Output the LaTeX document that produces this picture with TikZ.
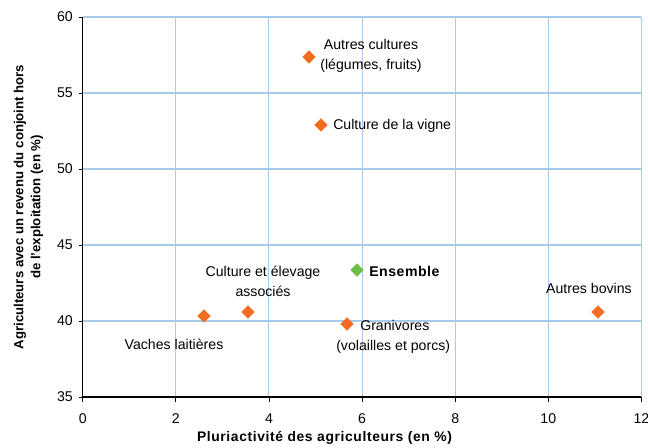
\documentclass[tikz,border=0pt]{standalone}
\usepackage{fontspec}
\setmainfont{Liberation Sans}
\newfontfamily\spaced[LetterSpace=4.5]{Liberation Sans}
\newfontfamily\spacedb[LetterSpace=3.5]{Liberation Sans}
\usetikzlibrary{shapes.geometric}
\definecolor{gridblue}{HTML}{A9CBEB}
\definecolor{mkorange}{HTML}{F26D21}
\definecolor{mkgreen}{HTML}{6DBE45}
\begin{document}
\begin{tikzpicture}[x=0.75pt,y=-0.75pt,
  lbl/.style={font=\fontsize{10.6}{15}\selectfont, inner sep=0pt, align=center},
  ttl/.style={inner sep=0pt, align=center},
  mk/.style={diamond, fill=mkorange, minimum size=10pt, inner sep=0pt},
  mkg/.style={diamond, fill=mkgreen, minimum size=10pt, inner sep=0pt},
  gridl/.style={draw=gridblue, line width=0.8pt}]
\useasboundingbox (0,0) rectangle (648,448);
% map: x px = 82.7 + 46.56*X ; y px = 17 + 15.2*(60-Y)
% grid
\foreach \i in {1,...,6} {\draw[gridl] ({82.7+93.12*\i},17) -- ({82.7+93.12*\i},397);}
\foreach \j in {1,...,4} {\draw[gridl] (82.7,{17+76*\j}) -- (641.4,{17+76*\j});}
\draw[gridl] (82.7,17) -- (641.4,17);
% axes
\draw[black, line width=0.9pt] (82.7,17) -- (82.7,397) -- (641.4,397);
\foreach \j/\v in {0/60,1/55,2/50,3/45,4/40,5/35} {
  \draw[black, line width=0.6pt] (78.5,{17+76*\j}) -- (82.7,{17+76*\j});
  \node[lbl, anchor=east] (yt\v) at (73,{17+76*\j}) {\v};
}
\foreach \i/\v in {0/0,1/2,2/4,3/6,4/8,5/10,6/12} {
  \draw[black, line width=0.6pt] ({82.7+93.12*\i},397) -- ({82.7+93.12*\i},401.5);
  \node[lbl] (xt\v) at ({82.7+93.12*\i},419) {\v};
}
% axis titles
\node[ttl, font=\spaced\bfseries\fontsize{10.4}{13}\selectfont] (xtitle) at (324.5,438) {Pluriactivité des agriculteurs (en \%)};
\node[ttl, rotate=90, font=\bfseries\fontsize{9.9}{12.75}\selectfont] (ytitle) at (28.5,207) {Agriculteurs avec un revenu du conjoint hors\\de l'exploitation (en \%)};
% points
\node[mk] (p1) at (309,57) {};
\node[mk] (p2) at (321,125) {};
\node[mkg] (p3) at (357,270) {};
\node[mk] (p4) at (598,312) {};
\node[mk] (p5) at (347,324) {};
\node[mk] (p6) at (248,312) {};
\node[mk] (p7) at (204,316) {};
% labels
\node[lbl] (l1) at (371,56) {Autres cultures\\(légumes, fruits)};
\node[lbl, anchor=west] (l2) at (333,126) {Culture de la vigne};
\node[lbl, anchor=west, font=\spacedb\bfseries\fontsize{10.6}{13}\selectfont] (l3) at (369,271) {Ensemble};
\node[lbl] (l4) at (589,288) {Autres bovins};
\node[lbl, align=left, anchor=north west] (l5) at (336,320) {\hspace*{18pt}Granivores\\(volailles et porcs)};
\node[lbl] (l6) at (263,281) {Culture et élevage\\associés};
\node[lbl] (l7) at (174,344) {Vaches laitières};
\end{tikzpicture}
\end{document}
